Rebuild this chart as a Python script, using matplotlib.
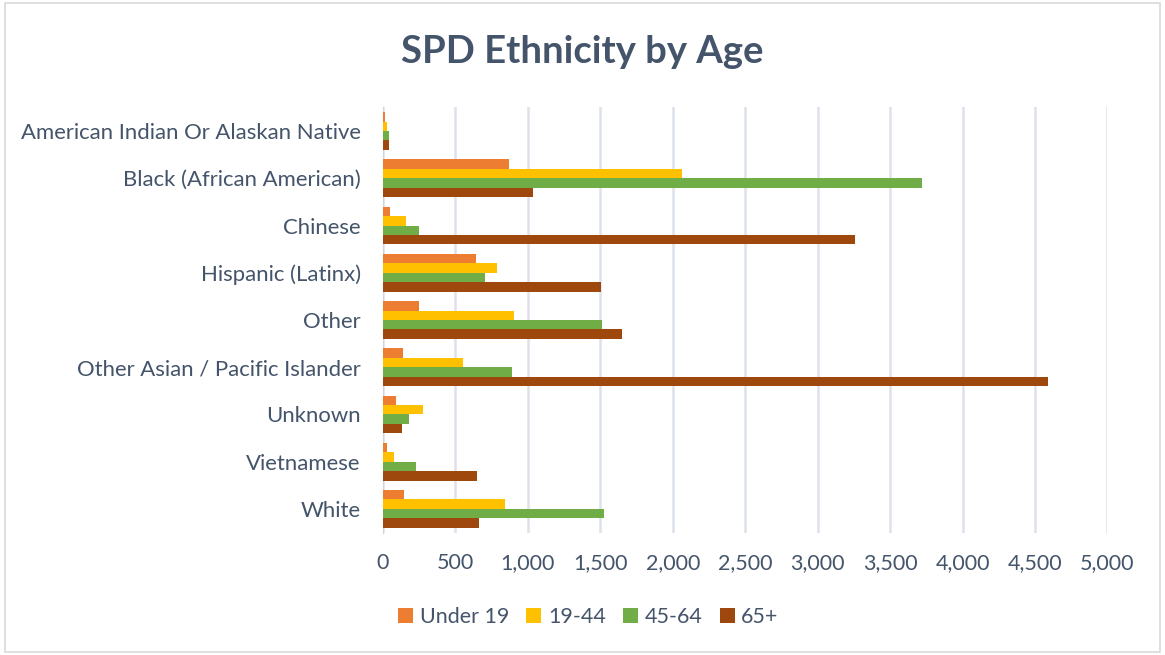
import matplotlib
matplotlib.use("Agg")
import matplotlib.pyplot as plt
from matplotlib.patches import Rectangle
from matplotlib.ticker import FuncFormatter
import numpy as np

plt.rcParams['font.family'] = ['Lato', 'DejaVu Sans']

categories = [
    "American Indian Or Alaskan Native",
    "Black (African American)",
    "Chinese",
    "Hispanic (Latinx)",
    "Other",
    "Other Asian / Pacific Islander",
    "Unknown",
    "Vietnamese",
    "White",
]
series_names = ["Under 19", "19-44", "45-64", "65+"]
under_19 = [10, 867, 45, 639, 245, 135, 86, 24, 148]
age_19_44 = [25, 2062, 155, 784, 901, 549, 273, 79, 839]
age_45_64 = [40, 3719, 245, 701, 1512, 887, 176, 224, 1523]
age_65_up = [40, 1032, 3256, 1502, 1647, 4590, 128, 646, 659]
x_ticks = list(range(0, 5001, 500))

colors = ["#ED7D31", "#FFC000", "#70AD47", "#9E480E"]
text_color = "#44546A"

fig = plt.figure(figsize=(11.65, 6.55), dpi=100)
ax = fig.add_axes([0.3288, 0.187, 0.9506 - 0.3288, 0.836 - 0.187])

y = np.arange(len(categories))
bar_h = 0.2
for i, (name, vals) in enumerate(zip(series_names, [under_19, age_19_44, age_45_64, age_65_up])):
    ax.barh(y - 0.3 + i * bar_h, vals, height=bar_h, color=colors[i], label=name, zorder=3)

ax.set_ylim(len(categories) - 0.5, -0.5)
ax.set_xlim(0, 5000)
ax.set_xticks(x_ticks)
ax.xaxis.set_major_formatter(FuncFormatter(lambda v, p: f"{int(v):,}"))
ax.set_yticks(y)
ax.set_yticklabels(categories)

ax.grid(axis="x", color="#DDE2EA", linewidth=1.8, zorder=0)
ax.tick_params(axis="x", length=0, labelsize=15.5, colors=text_color, pad=15)
ax.tick_params(axis="y", length=0, labelsize=15.9, colors=text_color, pad=16)
for s in ["top", "right", "bottom"]:
    ax.spines[s].set_visible(False)
ax.spines["left"].set_color("#D0D5DD")

fig.text(0.5, 0.921, "SPD Ethnicity by Age", ha="center", va="center",
         fontsize=27.5, fontweight="bold", color=text_color)

leg = fig.legend(loc="center", bbox_to_anchor=(0.505, 0.058), ncol=4, frameon=False,
                 fontsize=15.5, handlelength=0.7, handleheight=0.7,
                 handletextpad=0.3, columnspacing=0.8)
for t in leg.get_texts():
    t.set_color(text_color)

fig.patches.append(Rectangle((0.004, 0.004), 0.992, 0.992, transform=fig.transFigure,
                             fill=False, edgecolor="#D9D9D9", linewidth=1.2))

fig.savefig("out.png", dpi=100)
